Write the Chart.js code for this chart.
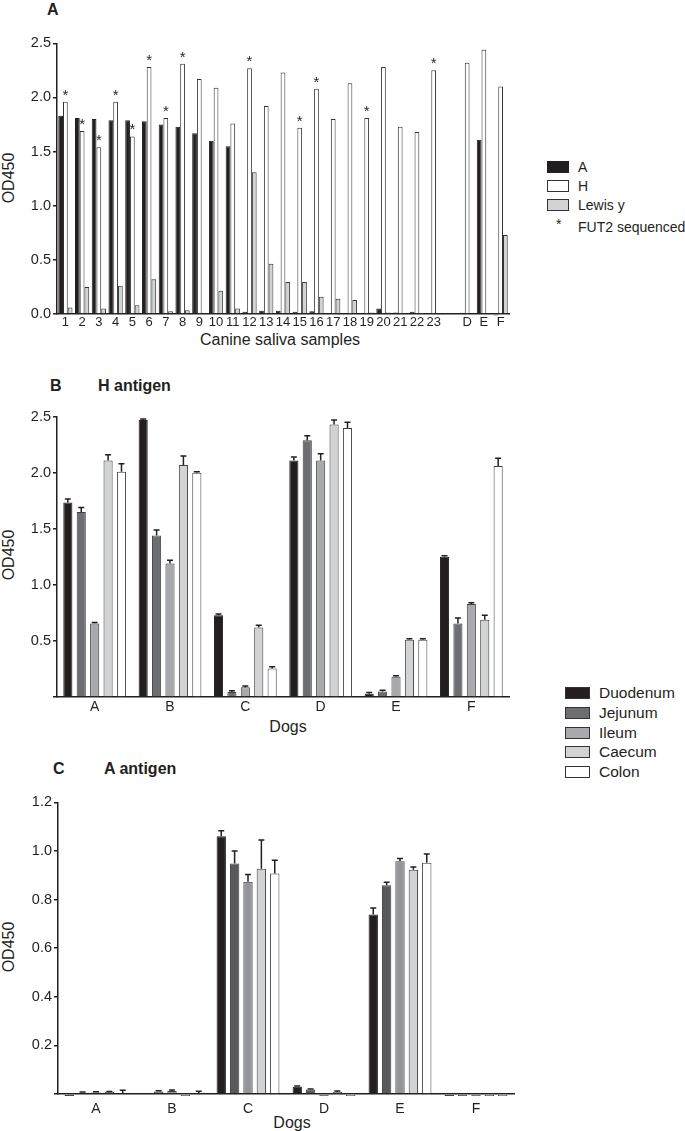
<!DOCTYPE html>
<html>
<head>
<meta charset="utf-8">
<script src="https://cdn.jsdelivr.net/npm/chart.js@4.4.1/dist/chart.umd.min.js"></script>
<style>
  body { margin: 0; background: #fff; width: 685px; height: 1131px; position: relative; overflow: hidden;
         font-family: "Liberation Sans", Arial, sans-serif; color: #231f20; }
  canvas { position: absolute; left: 0; }
  .txt { position: absolute; white-space: nowrap; line-height: 1; transform: translateY(-50%); }
  .ctr { transform: translate(-50%, -50%); }
  .rot { transform: translate(-50%, -50%) rotate(-90deg); }
  .bold { font-weight: bold; }
  .sw { position: absolute; box-sizing: border-box; border: 1px solid #333; }
</style>
</head>
<body>
<div class="txt bold" style="left:47px; top:10px; font-size:16px;">A</div>
<div class="txt rot" style="left:9px; top:178px; font-size:16px;">OD450</div>
<div class="txt ctr" style="left:280px; top:340px; font-size:16px;">Canine saliva samples</div>
<canvas id="salivaChart" width="520" height="334" style="top:0px"></canvas>
<div id="salivaLegend"></div>

<div class="txt bold" style="left:50px; top:386px; font-size:16px;">B</div>
<div class="txt bold" style="left:98px; top:386px; font-size:16px;">H antigen</div>
<div class="txt rot" style="left:9px; top:555px; font-size:16px;">OD450</div>
<div class="txt ctr" style="left:288px; top:727px; font-size:16px;">Dogs</div>
<canvas id="hChart" width="520" height="315" style="top:400px"></canvas>
<div id="tissueLegend"></div>

<div class="txt bold" style="left:53px; top:769px; font-size:16px;">C</div>
<div class="txt bold" style="left:104px; top:769px; font-size:16px;">A antigen</div>
<div class="txt rot" style="left:9px; top:947px; font-size:16px;">OD450</div>
<div class="txt ctr" style="left:292px; top:1123px; font-size:16px;">Dogs</div>
<canvas id="aChart" width="525" height="344" style="top:780px"></canvas>

<script>
// --- panel A: saliva samples ---
const salivaSamples = ['1','2','3','4','5','6','7','8','9','10','11','12','13','14','15','16','17','18','19','20','21','22','23','','D','E','F'];
const salivaA      = [1.83,1.81,1.80,1.79,1.79,1.78,1.75,1.73,1.67,1.60,1.55,0.02,0.03,0.03,0.02,0.025,0.003,0.003,0.003,0.05,0.015,0.02,0,null,0.012,1.61,-0.015];
const salivaH      = [1.96,1.69,1.54,1.96,1.64,2.28,1.81,2.31,2.17,2.09,1.76,2.27,1.92,2.23,1.72,2.08,1.80,2.13,1.81,2.28,1.73,1.68,2.25,null,2.32,2.44,2.10];
const salivaLewisY = [0.06,0.25,0.05,0.26,0.08,0.32,0.025,0.035,0.01,0.215,0.05,1.31,0.465,0.295,0.295,0.16,0.14,0.13,0.015,0.015,0.005,0.003,0,null,0.005,0.005,0.73];
const fut2Sequenced = ['1','2','3','4','5','6','7','8','12','15','16','19','23'];

// --- panels B and C: dogs x tissues ---
const dogs = ['A','B','C','D','E','F'];
const tissues = ['Duodenum','Jejunum','Ileum','Caecum','Colon'];

// H antigen (mean, error)
const hDuodenum = [1.735, 2.47, 0.73, 2.11, 0.03, 1.25];
const hJejunum  = [1.65, 1.44, 0.045, 2.29, 0.05, 0.655];
const hIleum    = [0.655, 1.19, 0.087, 2.11, 0.18, 0.83];
const hCaecum   = [2.11, 2.07, 0.62, 2.43, 0.51, 0.69];
const hColon    = [2.01, 2.00, 0.255, 2.40, 0.51, 2.06];
const hDuodenumErr = [0.03, 0.01, 0.01, 0.03, 0.01, 0.01];
const hJejunumErr  = [0.04, 0.05, 0.01, 0.04, 0.01, 0.05];
const hIleumErr    = [0.01, 0.03, 0.01, 0.06, 0.01, 0.01];
const hCaecumErr   = [0.05, 0.08, 0.02, 0.04, 0.01, 0.04];
const hColonErr    = [0.07, 0.01, 0.015, 0.05, 0.01, 0.07];

// A antigen (mean, error)
const aDuodenum = [-0.008, 0.003, 1.06, 0.03, 0.738, -0.008];
const aJejunum  = [0.005, 0.01, 0.948, 0.018, 0.859, -0.008];
const aIleum    = [0.006, 0.012, 0.873, -0.008, 0.958, -0.008];
const aCaecum   = [0.008, -0.008, 0.927, 0.008, 0.923, -0.008];
const aColon    = [0.0, 0.003, 0.907, -0.008, 0.951, -0.008];
const aDuodenumErr = [0, 0, 0.023, 0.003, 0.027, 0];
const aJejunumErr  = [0.003, 0.003, 0.052, 0.003, 0.012, 0];
const aIleumErr    = [0.003, 0.004, 0.03, 0, 0.011, 0];
const aCaecumErr   = [0.002, 0, 0.118, 0.004, 0.011, 0];
const aColonErr    = [0.015, 0.008, 0.055, 0, 0.036, 0];

const ink = '#231f20';
const fontFamily = '"Liberation Sans", Arial, sans-serif';
Chart.defaults.font.family = fontFamily;
Chart.defaults.color = ink;

// error bars (upward only, like the original)
const errorBars = {
    id: 'errorBars',
    afterDatasetsDraw(chart) {
        const ctx = chart.ctx;
        const yScale = chart.scales.y;
        chart.data.datasets.forEach((ds, di) => {
            if (!ds.errors) return;
            const meta = chart.getDatasetMeta(di);
            meta.data.forEach((bar, i) => {
                const err = ds.errors[i];
                if (!err) return;
                const v = Math.max(ds.data[i], 0);
                const base = yScale.getPixelForValue(v);
                const top = yScale.getPixelForValue(v + err);
                ctx.save();
                ctx.strokeStyle = ink;
                ctx.lineWidth = 1.5;
                ctx.beginPath();
                ctx.moveTo(bar.x, base);
                ctx.lineTo(bar.x, top);
                ctx.moveTo(bar.x - 3, top);
                ctx.lineTo(bar.x + 3, top);
                ctx.stroke();
                ctx.restore();
            });
        });
    }
};

// asterisks over H bars of sequenced samples
const fut2Stars = {
    id: 'fut2Stars',
    afterDatasetsDraw(chart) {
        const ctx = chart.ctx;
        const meta = chart.getDatasetMeta(1);
        ctx.save();
        ctx.font = '15px ' + fontFamily;
        ctx.textAlign = 'center';
        ctx.textBaseline = 'alphabetic';
        ctx.fillStyle = ink;
        fut2Sequenced.forEach(s => {
            const bar = meta.data[salivaSamples.indexOf(s)];
            if (bar) ctx.fillText('*', bar.x, bar.y - 2);
        });
        ctx.restore();
    }
};

function yAxis(max, step, width, showZero) {
    return {
        min: 0, max: max,
        afterFit: s => { s.width = width; },
        border: { display: true, color: ink, width: 1.5 },
        grid: { display: true, drawOnChartArea: false, drawTicks: true, tickLength: 4, color: ink, lineWidth: 1.5 },
        ticks: {
            stepSize: step, padding: 2, font: { size: 14.5 },
            callback: v => (v === 0 && !showZero) ? '' : v.toFixed(1)
        }
    };
}
function xAxis(height, pad, size) {
    return {
        afterFit: s => { s.height = height; },
        border: { display: true, color: ink, width: 1.5 },
        grid: { display: false, drawTicks: false },
        ticks: { autoSkip: false, maxRotation: 0, padding: pad, font: { size: size } }
    };
}

// --- chart A ---
const salivaColors = [
    { label: 'A', data: salivaA, backgroundColor: ink, borderColor: ink },
    { label: 'H', data: salivaH, backgroundColor: '#ffffff', borderColor: '#333333' },
    { label: 'Lewis y', data: salivaLewisY, backgroundColor: '#d1d3d4', borderColor: '#333333' }
];
new Chart(document.getElementById('salivaChart'), {
    type: 'bar',
    data: {
        labels: salivaSamples,
        datasets: salivaColors.map(d => Object.assign({ borderWidth: 1, clip: false }, d))
    },
    options: {
        responsive: false, animation: false,
        layout: { padding: { top: 43.3, right: 11, bottom: 0, left: 0 } },
        datasets: { bar: { categoryPercentage: 0.85, barPercentage: 1.0 } },
        plugins: { legend: { display: false }, tooltip: { enabled: false } },
        scales: { x: xAxis(20, 1, 13), y: yAxis(2.5, 0.5, 57, true) }
    },
    plugins: [fut2Stars]
});

// --- charts B and C ---
const tissueFillH = [ink, '#6d6e71', '#a7a9ac', '#d1d3d4', '#ffffff'];
const tissueFillA = [ink, '#58595b', '#939598', '#d1d3d4', '#ffffff'];

function tissueDatasets(values, errors, fills) {
    return tissues.map((t, i) => ({
        label: t, data: values[i], errors: errors[i],
        backgroundColor: fills[i], borderColor: i === 0 ? ink : '#414042',
        borderWidth: 1, clip: false
    }));
}

new Chart(document.getElementById('hChart'), {
    type: 'bar',
    data: {
        labels: dogs,
        datasets: tissueDatasets(
            [hDuodenum, hJejunum, hIleum, hCaecum, hColon],
            [hDuodenumErr, hJejunumErr, hIleumErr, hCaecumErr, hColonErr], tissueFillH)
    },
    options: {
        responsive: false, animation: false,
        layout: { padding: { top: 16.7, right: 11, bottom: 0, left: 0 } },
        datasets: { bar: { categoryPercentage: 0.89, barPercentage: 0.68 } },
        plugins: { legend: { display: false }, tooltip: { enabled: false } },
        scales: { x: xAxis(18, 1.6, 14), y: yAxis(2.5, 0.5, 57, false) }
    },
    plugins: [errorBars]
});

new Chart(document.getElementById('aChart'), {
    type: 'bar',
    data: {
        labels: dogs,
        datasets: tissueDatasets(
            [aDuodenum, aJejunum, aIleum, aCaecum, aColon],
            [aDuodenumErr, aJejunumErr, aIleumErr, aCaecumErr, aColonErr], tissueFillA)
    },
    options: {
        responsive: false, animation: false,
        layout: { padding: { top: 22.3, right: 11, bottom: 0, left: 0 } },
        datasets: { bar: { categoryPercentage: 0.88, barPercentage: 0.7 } },
        plugins: { legend: { display: false }, tooltip: { enabled: false } },
        scales: { x: xAxis(30, 6.6, 14), y: yAxis(1.2, 0.2, 58, false) }
    },
    plugins: [errorBars]
});

// --- html legends ---
function addSwatch(parent, x, y, w, h, fill, border) {
    const d = document.createElement('div');
    d.className = 'sw';
    d.style.cssText = `left:${x}px;top:${y}px;width:${w}px;height:${h}px;background:${fill};border-color:${border}`;
    parent.appendChild(d);
}
function addText(parent, x, yc, text, size) {
    const d = document.createElement('div');
    d.className = 'txt';
    d.style.cssText = `left:${x}px;top:${yc}px;font-size:${size}px`;
    d.textContent = text;
    parent.appendChild(d);
}

const salivaLegend = document.getElementById('salivaLegend');
salivaColors.forEach((d, i) => {
    const yc = 167 + i * 19;
    addSwatch(salivaLegend, 547, yc - 6, 22, 12, d.backgroundColor, d.borderColor);
    addText(salivaLegend, 578, yc, d.label, 14);
});
addText(salivaLegend, 556, 224, '*', 14);
addText(salivaLegend, 578, 227, 'FUT2 sequenced', 14);

const tissueLegend = document.getElementById('tissueLegend');
tissues.forEach((t, i) => {
    const yc = 693 + i * 19.8;
    addSwatch(tissueLegend, 565, yc - 6, 25, 12, tissueFillH[i], '#333333');
    addText(tissueLegend, 599, yc, t, 15.5);
});
</script>
</body>
</html>
